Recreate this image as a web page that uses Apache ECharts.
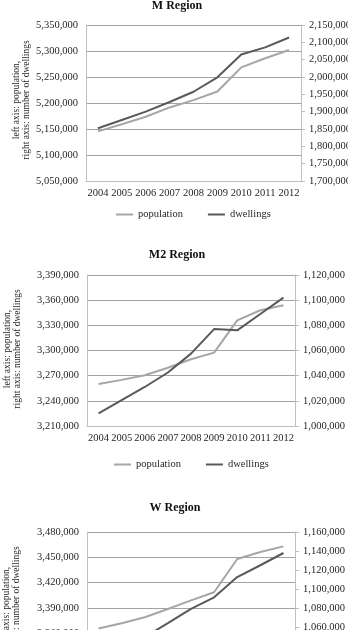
<!DOCTYPE html>
<html>
<head>
<meta charset="utf-8">
<script src="https://cdn.jsdelivr.net/npm/echarts@6/dist/echarts.min.js"></script>
<style>
html,body{margin:0;padding:0;background:#fff;}
#chart{width:348px;height:630px;}
</style>
</head>
<body>
<div id="chart"></div>
<script>
// ---- data ----
const years = ['2004','2005','2006','2007','2008','2009','2010','2011','2012'];
const seriesNames = ['population', 'dwellings'];
const titles = ['M Region', 'M2 Region', 'W Region'];
const axisNameText = 'left axis: population,\nright axis: number of dwellings';

const mPopulation  = [5145500, 5159000, 5173500, 5191500, 5205500, 5222000, 5268500, 5286000, 5302000];
const mDwellings   = [1852000, 1876000, 1900000, 1928000, 1957500, 1999000, 2065000, 2085500, 2114000];
const m2Population = [3260000, 3265000, 3270500, 3279500, 3289500, 3297500, 3336000, 3348000, 3354000];
const m2Dwellings  = [1010000, 1020500, 1031000, 1042500, 1057500, 1077000, 1076000, 1089000, 1102000];
const wPopulation  = [3365700, 3372000, 3379000, 3388800, 3399000, 3408600, 3448000, 3456300, 3463000];
const wDwellings   = [1024000, 1036000, 1049500, 1064000, 1079000, 1091200, 1112600, 1125000, 1137900];

// axis ranges: [min, max, interval]
const mLeftAxis  = [5050000, 5350000, 50000];
const mRightAxis = [1700000, 2150000, 50000];
const m2LeftAxis  = [3210000, 3390000, 30000];
const m2RightAxis = [1000000, 1120000, 20000];
const wLeftAxis  = [3300000, 3480000, 30000];
const wRightAxis = [1000000, 1160000, 20000];

// ---- layout / style ----
const FONT = "'Liberation Serif', 'Times New Roman', serif";
const LIGHT = '#a6a6a6';
const DARK = '#595959';
const TEXT = '#262626';
const GRID_LINE = '#a3a3a3';
const AXIS_LINE = '#bfbfbf';

const grids = [
  {left: 86, top: 25, width: 215, height: 156, outerBoundsMode: 'none', containLabel: false},
  {left: 87, top: 275, width: 208, height: 151, outerBoundsMode: 'none', containLabel: false},
  {left: 87, top: 532, width: 208, height: 152, outerBoundsMode: 'none', containLabel: false}
];
const leftRanges = [mLeftAxis, m2LeftAxis, wLeftAxis];
const rightRanges = [mRightAxis, m2RightAxis, wRightAxis];
const popData = [mPopulation, m2Population, wPopulation];
const dwData = [mDwellings, m2Dwellings, wDwellings];
const titleCenters = [[177, 6], [177, 255], [175, 508]];
const nameCenters = [[21, 100], [12, 349], [11, 606]];
const legendPos = [[116, 209], [114, 459], [114, 716]];

const fmt = v => v.toLocaleString('en-US');

const xAxes = [], yAxes = [], series = [], legends = [], graphics = [];
grids.forEach((g, i) => {
  xAxes.push({
    type: 'category', gridIndex: i, data: years, boundaryGap: true,
    axisLine: {show: true, lineStyle: {color: AXIS_LINE, width: 1}},
    axisTick: {show: false},
    axisLabel: {color: TEXT, fontFamily: FONT, fontSize: 10.5, margin: 7, interval: 0}
  });
  const L = leftRanges[i], R = rightRanges[i];
  yAxes.push({
    type: 'value', gridIndex: i, position: 'left', min: L[0], max: L[1], interval: L[2],
    axisLine: {show: true, lineStyle: {color: AXIS_LINE}},
    axisTick: {show: false},
    splitLine: {show: true, lineStyle: {color: GRID_LINE, width: 1}},
    axisLabel: {color: TEXT, fontFamily: FONT, fontSize: 10.5, margin: 8, formatter: fmt}
  });
  yAxes.push({
    type: 'value', gridIndex: i, position: 'right', min: R[0], max: R[1], interval: R[2],
    axisLine: {show: true, lineStyle: {color: AXIS_LINE}},
    axisTick: {show: true, length: 4, lineStyle: {color: AXIS_LINE}},
    splitLine: {show: false},
    axisLabel: {color: TEXT, fontFamily: FONT, fontSize: 10.5, margin: 8, formatter: fmt}
  });
  series.push({
    name: seriesNames[0], type: 'line', xAxisIndex: i, yAxisIndex: 2 * i,
    data: popData[i], showSymbol: false, symbol: 'none', color: LIGHT,
    lineStyle: {color: LIGHT, width: 2}, animation: false
  });
  series.push({
    name: seriesNames[1], type: 'line', xAxisIndex: i, yAxisIndex: 2 * i + 1,
    data: dwData[i], showSymbol: false, symbol: 'none', color: DARK,
    lineStyle: {color: DARK, width: 2}, animation: false
  });
  legends.push({
    data: seriesNames, left: legendPos[i][0], top: legendPos[i][1], padding: 0,
    icon: 'rect', itemWidth: 17, itemHeight: 2, itemGap: 25,
    textStyle: {color: TEXT, fontFamily: FONT, fontSize: 10.5}
  });
  graphics.push({
    type: 'text', x: titleCenters[i][0], y: titleCenters[i][1],
    style: {text: titles[i], fill: '#111', font: 'bold 12px ' + FONT, textAlign: 'center', textVerticalAlign: 'middle'}
  });
  graphics.push({
    type: 'text', x: nameCenters[i][0], y: nameCenters[i][1], rotation: Math.PI / 2,
    style: {text: axisNameText, fill: TEXT, font: '9.5px ' + FONT, textAlign: 'center', textVerticalAlign: 'middle', lineHeight: 10}
  });
});

const chart = echarts.init(document.getElementById('chart'), null, {renderer: 'canvas'});
chart.setOption({
  animation: false,
  backgroundColor: '#fff',
  grid: grids,
  xAxis: xAxes,
  yAxis: yAxes,
  series: series,
  legend: legends,
  graphic: graphics
});
</script>
</body>
</html>
